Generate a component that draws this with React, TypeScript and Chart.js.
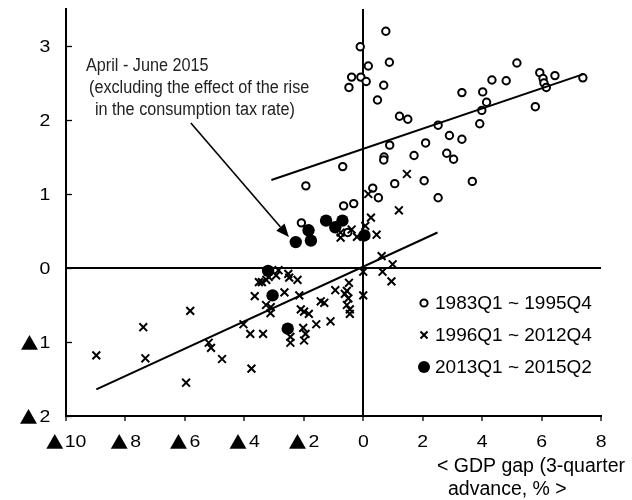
import React, { useEffect, useRef } from "react";
import { Chart, registerables } from "chart.js";

Chart.register(...registerables);

// ---------- data ----------
const SERIES_LABELS = ["1983Q1 ~ 1995Q4", "1996Q1 ~ 2012Q4", "2013Q1 ~ 2015Q2"];
const X_TICKS = [-10, -8, -6, -4, -2, 0, 2, 4, 6, 8];
const Y_TICKS = [-2, -1, 0, 1, 2, 3];
const X_RANGE = [-10, 8];
const Y_RANGE = [-2, 3.5];

const period1983: [number, number][] = [
  [0.76, 3.2], [-0.1, 2.99], [0.88, 2.78], [0.17, 2.73], [-0.39, 2.58], [-0.08, 2.58],
  [-0.48, 2.44], [0.1, 2.52], [0.69, 2.47], [0.48, 2.27], [1.22, 2.05], [1.5, 2.01],
  [0.89, 1.66], [0.7, 1.5], [0.69, 1.46], [-0.69, 1.37], [-1.93, 1.11], [0.32, 1.08],
  [1.06, 1.14], [0.51, 0.95], [-0.32, 0.87], [-0.66, 0.84], [-2.08, 0.61], [-0.52, 0.48],
  [1.71, 1.52], [2.1, 1.69], [2.05, 1.18], [2.52, 1.93], [2.52, 0.95], [2.9, 1.79],
  [2.81, 1.55], [3.04, 1.47], [3.32, 2.37], [3.32, 1.74], [3.67, 1.17], [3.92, 1.95],
  [4.02, 2.38], [3.99, 2.13], [4.15, 2.24], [4.33, 2.54], [4.81, 2.53], [5.17, 2.77],
  [5.79, 2.18], [5.94, 2.64], [6.05, 2.56], [6.08, 2.5], [6.16, 2.44], [6.45, 2.6],
  [7.39, 2.57],
];

const period1996: [number, number][] = [
  [1.47, 1.27], [1.2, 0.78], [0.17, 1.0], [0.26, 0.68], [0.07, 0.57], [0.45, 0.45],
  [-0.76, 0.41], [-0.76, 0.48], [-0.39, 0.52], [-0.21, 0.42], [0.62, 0.16], [0.99, 0.05],
  [0.65, -0.05], [0.95, -0.18], [0.0, -0.05], [0.0, -0.37], [-0.48, -0.2], [-0.55, -0.31],
  [-0.62, -0.35], [-0.5, -0.41], [-0.55, -0.5], [-0.45, -0.62], [-0.45, -0.56], [-0.94, -0.3],
  [-1.1, -0.72], [-1.31, -0.47], [-1.43, -0.45], [-1.58, -0.76], [-1.83, -0.62], [-1.99, -0.59],
  [-2.1, -0.56], [-2.15, -0.37], [-2.21, -0.16], [-2.02, -0.81], [-1.94, -0.89], [-1.99, -0.98],
  [-2.45, -0.93], [-2.45, -1.01], [-2.52, -0.08], [-2.49, -0.13], [-2.65, -0.33], [-2.85, -0.03],
  [-2.93, -0.1], [-3.18, -0.12], [-3.41, -0.19], [-3.51, -0.19], [-3.27, -0.5], [-3.12, -0.61],
  [-3.11, -0.53], [-3.65, -0.38], [-4.03, -0.76], [-3.8, -0.89], [-3.37, -0.89], [-3.76, -1.36],
  [-5.2, -1.01], [-5.12, -1.08], [-4.75, -1.23], [-5.82, -0.58], [-5.96, -1.55], [-7.4, -0.8],
  [-7.33, -1.22], [-8.98, -1.18], [-3.26, -0.16],
];

const period2013: [number, number][] = [
  [-2.27, 0.35], [-1.84, 0.51], [-1.76, 0.37], [-1.25, 0.64], [-0.94, 0.55],
  [-0.7, 0.64], [0.04, 0.44], [-3.2, -0.04], [-3.05, -0.37], [-2.54, -0.82],
];

const fit1983: [number, number][] = [[-3.09, 1.19], [7.41, 2.62]];
const fit1996: [number, number][] = [[-8.98, -1.64], [2.5, 0.48]];

const ARROW_FROM: [number, number] = [-5.8, 1.96];
const ARROW_TO: [number, number] = [-2.5, 0.42];

const NOTE_LINES = ["April - June 2015", "(excluding the effect of the rise", "in the consumption tax rate)"];
const X_TITLE = ["< GDP gap (3-quarter", "advance, % >"];

const toXY = (arr: [number, number][]) => arr.map(([x, y]) => ({ x, y }));

const SANS = "'Liberation Sans', Arial, sans-serif";
const CJK = "'Noto Sans CJK JP', 'DejaVu Sans', sans-serif";

// draws e.g. "▲10": the triangle in a CJK font (full-size), digits slightly widened
function drawTickLabel(
  ctx: CanvasRenderingContext2D,
  v: number,
  x: number,
  cy: number,
  align: "center" | "right"
) {
  const neg = v < 0;
  const digits = String(Math.abs(v));
  const dsx = 1.18;
  ctx.textAlign = "left";
  ctx.textBaseline = "alphabetic";
  ctx.font = `16.5px ${SANS}`;
  const dm = ctx.measureText(digits);
  const dInkL = dm.actualBoundingBoxLeft * dsx;
  const dw = (dm.actualBoundingBoxLeft + dm.actualBoundingBoxRight) * dsx;
  let tw = 0;
  let tm: TextMetrics | null = null;
  if (neg) {
    ctx.font = `18px ${CJK}`;
    tm = ctx.measureText("\u25B2");
    tw = tm.actualBoundingBoxLeft + tm.actualBoundingBoxRight;
  }
  const gap = neg ? 2 : 0;
  const total = tw + gap + dw;
  const left = align === "center" ? x - total / 2 : x - total;
  if (neg && tm) {
    ctx.font = `18px ${CJK}`;
    const base = cy + (tm.actualBoundingBoxAscent - tm.actualBoundingBoxDescent) / 2;
    ctx.fillText("\u25B2", left + tm.actualBoundingBoxLeft, base);
  }
  ctx.font = `16.5px ${SANS}`;
  const base2 = cy + (dm.actualBoundingBoxAscent - dm.actualBoundingBoxDescent) / 2;
  ctx.save();
  ctx.translate(left + tw + gap + dInkL, base2);
  ctx.scale(dsx, 1);
  ctx.fillText(digits, 0, 0);
  ctx.restore();
}

const overlay = {
  id: "overlay",
  afterDraw(chart: any) {
    const ctx = chart.ctx as CanvasRenderingContext2D;
    const xs = chart.scales.x;
    const ys = chart.scales.y;
    const area = chart.chartArea;
    ctx.save();
    // inside ticks on y axis
    ctx.strokeStyle = "#000";
    ctx.lineWidth = 1.3;
    Y_TICKS.forEach((v) => {
      const py = Math.round(ys.getPixelForValue(v)) + 0.5;
      ctx.beginPath();
      ctx.moveTo(area.left, py);
      ctx.lineTo(area.left + 6, py);
      ctx.stroke();
    });

    // tick labels
    ctx.fillStyle = "#000";
    X_TICKS.forEach((v) => drawTickLabel(ctx, v, xs.getPixelForValue(v), area.bottom + 25, "center"));
    Y_TICKS.forEach((v) => drawTickLabel(ctx, v, area.left - 16, ys.getPixelForValue(v), "right"));

    // arrow
    const x1 = xs.getPixelForValue(ARROW_FROM[0]);
    const y1 = ys.getPixelForValue(ARROW_FROM[1]);
    const x2 = xs.getPixelForValue(ARROW_TO[0]);
    const y2 = ys.getPixelForValue(ARROW_TO[1]);
    const ang = Math.atan2(y2 - y1, x2 - x1);
    const hl = 13, hw = 5.5;
    const bx = x2 - hl * Math.cos(ang);
    const by = y2 - hl * Math.sin(ang);
    ctx.strokeStyle = "#000";
    ctx.lineWidth = 1.6;
    ctx.beginPath();
    ctx.moveTo(x1, y1);
    ctx.lineTo(bx, by);
    ctx.stroke();
    ctx.fillStyle = "#000";
    ctx.beginPath();
    ctx.moveTo(x2, y2);
    ctx.lineTo(bx + hw * Math.sin(ang), by - hw * Math.cos(ang));
    ctx.lineTo(bx - hw * Math.sin(ang), by + hw * Math.cos(ang));
    ctx.closePath();
    ctx.fill();

    // annotation text (condensed)
    ctx.fillStyle = "#222";
    ctx.font = `18px ${SANS}`;
    ctx.textAlign = "left";
    ctx.textBaseline = "alphabetic";
    const noteX = [86, 89, 95];
    const noteY = [71, 93, 115];
    const sx = 0.9;
    NOTE_LINES.forEach((t, i) => {
      ctx.save();
      ctx.translate(noteX[i], noteY[i]);
      ctx.scale(sx, 1);
      ctx.fillText(t, 0, 0);
      ctx.restore();
    });

    // legend
    const legX = 424;
    const legY = [303, 335, 367];
    ctx.font = `19px ${SANS}`;
    ctx.textBaseline = "middle";
    SERIES_LABELS.forEach((t, i) => {
      const cy = legY[i];
      ctx.strokeStyle = "#000";
      if (i === 0) {
        ctx.lineWidth = 2;
        ctx.fillStyle = "#fff";
        ctx.beginPath();
        ctx.arc(legX, cy, 3.6, 0, Math.PI * 2);
        ctx.fill();
        ctx.stroke();
      } else if (i === 1) {
        ctx.lineWidth = 2;
        const d = 3.5;
        ctx.beginPath();
        ctx.moveTo(legX - d, cy - d);
        ctx.lineTo(legX + d, cy + d);
        ctx.moveTo(legX + d, cy - d);
        ctx.lineTo(legX - d, cy + d);
        ctx.stroke();
      } else {
        ctx.fillStyle = "#000";
        ctx.beginPath();
        ctx.arc(legX, cy, 6, 0, Math.PI * 2);
        ctx.fill();
      }
      ctx.fillStyle = "#000";
      ctx.fillText(t, legX + 11, cy + 1);
    });

    // x axis title
    ctx.font = `19.5px ${SANS}`;
    ctx.textBaseline = "alphabetic";
    ctx.textAlign = "right";
    ctx.fillText(X_TITLE[0], 625, 472);
    ctx.textAlign = "left";
    ctx.fillText(X_TITLE[1], 448, 495);
    ctx.restore();
  },
};

export default function App() {
  const ref = useRef<HTMLCanvasElement | null>(null);
  useEffect(() => {
    document.body.style.margin = "0";
    const canvas = ref.current!;
    const zeroColor = (c: any) => (c.tick && c.tick.value === 0 ? "#000" : "rgba(0,0,0,0)");
    const chart = new Chart(canvas, {
      type: "scatter",
      data: {
        datasets: [
          {
            type: "line",
            label: "fit1983",
            data: toXY(fit1983),
            borderColor: "#000",
            borderWidth: 2,
            pointRadius: 0,
            showLine: true,
            fill: false,
          } as any,
          {
            type: "line",
            label: "fit1996",
            data: toXY(fit1996),
            borderColor: "#000",
            borderWidth: 2,
            pointRadius: 0,
            showLine: true,
            fill: false,
          } as any,
          {
            label: SERIES_LABELS[2],
            data: toXY(period2013),
            pointStyle: "circle",
            pointRadius: 6.2,
            backgroundColor: "#000",
            borderColor: "#000",
            borderWidth: 0,
          },
          {
            label: SERIES_LABELS[1],
            data: toXY(period1996),
            pointStyle: "crossRot",
            pointRadius: 5.5,
            borderColor: "#000",
            borderWidth: 2,
          },
          {
            label: SERIES_LABELS[0],
            data: toXY(period1983),
            pointStyle: "circle",
            pointRadius: 3.7,
            backgroundColor: "#fff",
            borderColor: "#000",
            borderWidth: 2,
          },
        ],
      },
      options: {
        responsive: false,
        animation: false,
        devicePixelRatio: 1,
        layout: { padding: { top: 9, right: 31, left: 0, bottom: 0 } },
        plugins: { legend: { display: false }, tooltip: { enabled: false } },
        scales: {
          x: {
            type: "linear",
            min: X_RANGE[0],
            max: X_RANGE[1],
            afterBuildTicks: (s: any) => {
              s.ticks = X_TICKS.map((v) => ({ value: v }));
            },
            afterFit: (s: any) => {
              s.height = 84;
              s.paddingLeft = 0;
              s.paddingRight = 0;
            },
            ticks: {
              callback: () => "",
              font: { family: SANS, size: 15 },
              padding: 7,
              maxRotation: 0,
              autoSkip: false,
            },
            grid: {
              drawOnChartArea: true,
              color: zeroColor,
              lineWidth: 2,
              tickColor: "#000",
              tickLength: 5,
              tickWidth: 1.3,
            },
            border: { display: true, color: "#000", width: 2 },
          },
          y: {
            type: "linear",
            min: Y_RANGE[0],
            max: Y_RANGE[1],
            afterBuildTicks: (s: any) => {
              s.ticks = Y_TICKS.map((v) => ({ value: v }));
            },
            afterFit: (s: any) => {
              s.width = 66;
              s.paddingTop = 0;
              s.paddingBottom = 0;
            },
            ticks: {
              callback: () => "",
              font: { family: SANS, size: 15 },
              padding: 14,
            },
            grid: {
              drawOnChartArea: true,
              drawTicks: false,
              color: zeroColor,
              lineWidth: 2,
            },
            border: { display: true, color: "#000", width: 2 },
          },
        },
      },
      plugins: [overlay],
    } as any);
    return () => chart.destroy();
  }, []);
  return (
    <div style={{ width: 632, height: 500 }}>
      <canvas ref={ref} width={632} height={500} style={{ display: "block" }} />
    </div>
  );
}
